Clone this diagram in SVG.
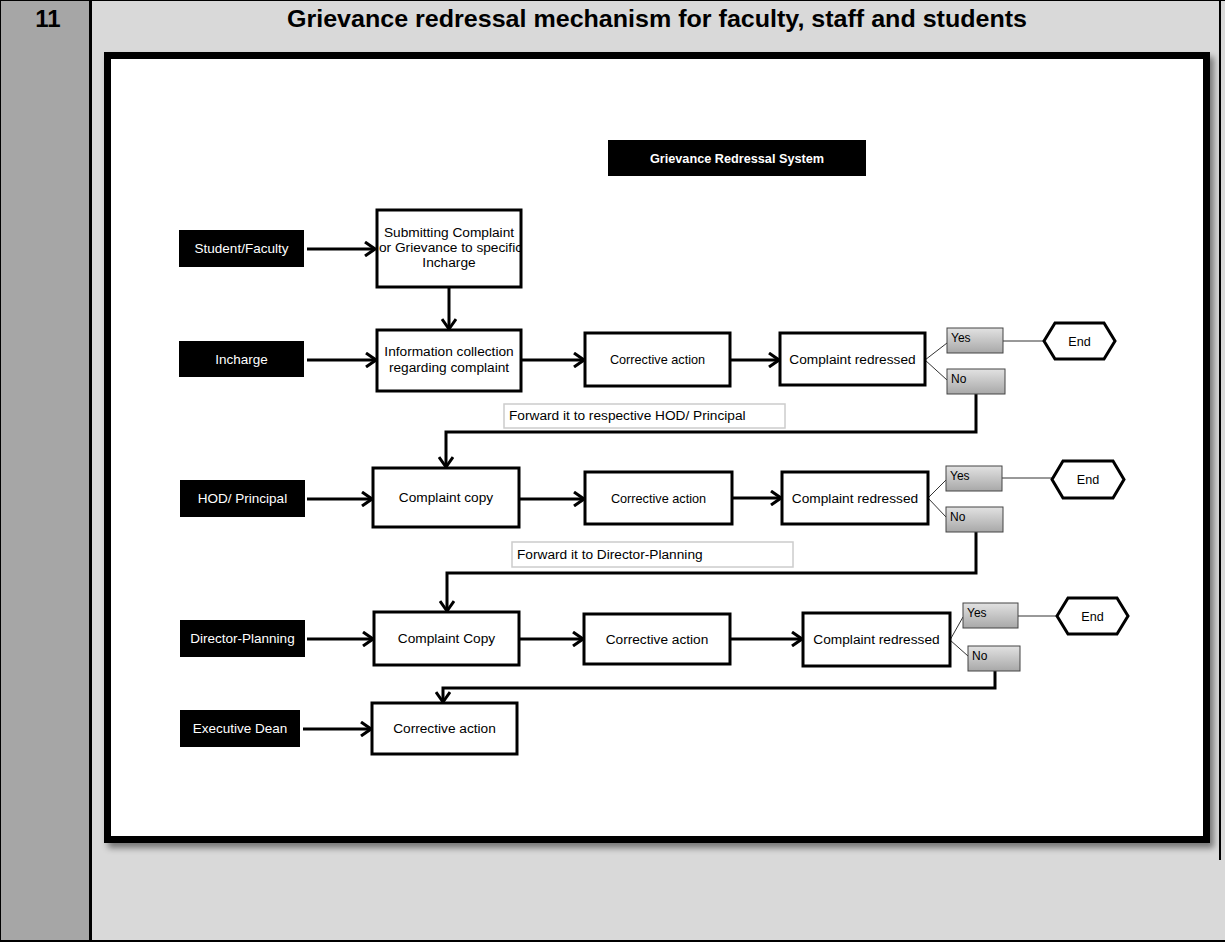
<svg xmlns="http://www.w3.org/2000/svg" width="1225" height="942" viewBox="0 0 1225 942">
<style>
text{font-family:"Liberation Sans",Arial,sans-serif;fill:#000}
.lbl rect{fill:#000}
.lbl text{fill:#fff;font-size:13.5px;text-anchor:middle}
.box rect{fill:#fff;stroke:#000;stroke-width:3}
.box text{font-size:13.7px;text-anchor:middle}
.yn rect{fill:url(#g);stroke:#444;stroke-width:1}
.yn text{font-size:12px}
.end polygon{fill:#fff;stroke:#000;stroke-width:3}
.end text{font-size:12.6px;text-anchor:middle}
.fw rect{fill:#fff;stroke:#ccc;stroke-width:1.5}
.fw text{font-size:13.7px}
.c path,.c line{fill:none;stroke:#000;stroke-width:3}
.c .thin{stroke:#333;stroke-width:1}
.c .arr{marker-end:url(#ah)}
</style>
<defs>
<linearGradient id="g" x1="0" y1="0" x2="0" y2="1"><stop offset="0" stop-color="#e2e2e2"/><stop offset="1" stop-color="#a8a8a8"/></linearGradient>
<marker id="ah" viewBox="0 0 12 16" refX="11" refY="8" markerWidth="12" markerHeight="16" markerUnits="userSpaceOnUse" orient="auto"><path d="M1,1 L11,8 L1,15" fill="none" stroke="#000" stroke-width="3"/></marker>
<filter id="sh" x="-5%" y="-5%" width="110%" height="110%"><feDropShadow dx="4" dy="5" stdDeviation="3" flood-color="#000" flood-opacity="0.45"/></filter>
<clipPath id="clipSub"><rect x="378" y="211" width="142" height="75"/></clipPath>
</defs>
<g id="table">
<rect x="0" y="0" width="1225" height="942" fill="#d9d9d9"/>
<rect x="0" y="0" width="89" height="942" fill="#a6a6a6"/>
<line x1="0" y1="0.5" x2="1225" y2="0.5" stroke="#000" stroke-width="1"/>
<line x1="0.5" y1="0" x2="0.5" y2="942" stroke="#000" stroke-width="1"/>
<line x1="90.5" y1="0" x2="90.5" y2="942" stroke="#000" stroke-width="3"/>
<line x1="1220" y1="0" x2="1220" y2="860" stroke="#000" stroke-width="2"/>
<line x1="0" y1="941" x2="1225" y2="941" stroke="#000" stroke-width="2"/>
<text x="48" y="27" font-size="24" font-weight="bold" text-anchor="middle">11</text>
<text x="657" y="27" font-size="24" font-weight="bold" text-anchor="middle" textLength="740" lengthAdjust="spacingAndGlyphs">Grievance redressal mechanism for faculty, staff and students</text>
</g>
<g id="frame">
<rect x="107.5" y="55.5" width="1099" height="784" fill="#fff" stroke="#000" stroke-width="7" filter="url(#sh)"/>
</g>
<g id="title-box">
<rect x="608" y="140" width="258" height="36" fill="#000"/>
<text x="737" y="163" font-size="12.7" font-weight="bold" fill="#fff" text-anchor="middle" style="fill:#fff">Grievance Redressal System</text>
</g>
<g class="c" id="connectors">
<line class="arr" x1="307" y1="249" x2="375" y2="249"/>
<line class="arr" x1="449" y1="287" x2="449" y2="329"/>
<line class="arr" x1="307" y1="360" x2="376" y2="360"/>
<line class="arr" x1="521" y1="360" x2="584" y2="360"/>
<line class="arr" x1="730" y1="360" x2="779" y2="360"/>
<line class="thin" x1="925" y1="360" x2="947" y2="343"/>
<line class="thin" x1="925" y1="360" x2="947" y2="380"/>
<line class="thin" x1="1003" y1="341" x2="1044" y2="341"/>
<path class="arr" d="M976,394 V432 H446 V467"/>
<line class="arr" x1="307" y1="499" x2="372" y2="499"/>
<line class="arr" x1="519" y1="499" x2="584" y2="499"/>
<line class="arr" x1="732" y1="498" x2="781" y2="498"/>
<line class="thin" x1="928" y1="498" x2="946" y2="480"/>
<line class="thin" x1="928" y1="498" x2="946" y2="517"/>
<line class="thin" x1="1002" y1="478" x2="1052" y2="478"/>
<path class="arr" d="M976,532 V573 H447 V611"/>
<line class="arr" x1="307" y1="639" x2="373" y2="639"/>
<line class="arr" x1="519" y1="639" x2="583" y2="639"/>
<line class="arr" x1="730" y1="639" x2="802" y2="639"/>
<line class="thin" x1="950" y1="640" x2="963" y2="617"/>
<line class="thin" x1="950" y1="640" x2="968" y2="656"/>
<line class="thin" x1="1018" y1="616" x2="1057" y2="616"/>
<path class="arr" d="M995,671 V688 H443 V702"/>
<line class="arr" x1="303" y1="729" x2="371" y2="729"/>
</g>
<g id="student-faculty" class="lbl"><rect x="179" y="230" width="125" height="37"/><text x="241.5" y="253">Student/Faculty</text></g>
<g id="incharge" class="lbl"><rect x="179" y="341" width="125" height="36"/><text x="241.5" y="364">Incharge</text></g>
<g id="hod-principal" class="lbl"><rect x="180" y="480" width="125" height="37"/><text x="242.5" y="503">HOD/ Principal</text></g>
<g id="director-planning" class="lbl"><rect x="180" y="620" width="125" height="37"/><text x="242.5" y="643">Director-Planning</text></g>
<g id="executive-dean" class="lbl"><rect x="180" y="710" width="120" height="37"/><text x="240" y="733">Executive Dean</text></g>
<g id="submitting" class="box"><rect x="377" y="210" width="144" height="77"/>
<g clip-path="url(#clipSub)"><text x="449" y="237" font-size="14">Submitting Complaint</text><text x="379" y="252" font-size="14" style="text-anchor:start">or Grievance to specific</text><text x="449" y="267" font-size="14">Incharge</text></g></g>
<g id="info-collection" class="box"><rect x="377" y="330" width="144" height="61"/><text x="449" y="356" font-size="14">Information collection</text><text x="449" y="372" font-size="14">regarding complaint</text></g>
<g id="corrective-1" class="box"><rect x="585" y="333" width="145" height="53"/><text x="657.5" y="364" style="font-size:12.7px">Corrective action</text></g>
<g id="redressed-1" class="box"><rect x="780" y="333" width="145" height="52"/><text x="852.5" y="364">Complaint redressed</text></g>
<g id="yes-1" class="yn"><rect x="947" y="328" width="56" height="25"/><text x="951" y="342">Yes</text></g>
<g id="no-1" class="yn"><rect x="947" y="369" width="58" height="25"/><text x="951" y="383">No</text></g>
<g id="end-1" class="end"><polygon points="1044,341 1055,323 1104,323 1115,341 1104,359 1055,359"/><text x="1079.5" y="346">End</text></g>
<g id="forward-1" class="fw"><rect x="504" y="404" width="281" height="24"/><text x="509" y="420">Forward it to respective HOD/ Principal</text></g>
<g id="complaint-copy-1" class="box"><rect x="373" y="468" width="146" height="59"/><text x="446" y="502">Complaint copy</text></g>
<g id="corrective-2" class="box"><rect x="585" y="472" width="147" height="52"/><text x="658.5" y="503" style="font-size:12.7px">Corrective action</text></g>
<g id="redressed-2" class="box"><rect x="782" y="472" width="146" height="52"/><text x="855" y="503">Complaint redressed</text></g>
<g id="yes-2" class="yn"><rect x="946" y="466" width="56" height="25"/><text x="950" y="480">Yes</text></g>
<g id="no-2" class="yn"><rect x="946" y="507" width="57" height="25"/><text x="950" y="521">No</text></g>
<g id="end-2" class="end"><polygon points="1052,479.5 1063,461 1113,461 1124,479.5 1113,498 1063,498"/><text x="1088" y="484">End</text></g>
<g id="forward-2" class="fw"><rect x="512" y="542" width="281" height="25"/><text x="517" y="559">Forward it to Director-Planning</text></g>
<g id="complaint-copy-2" class="box"><rect x="374" y="612" width="145" height="53"/><text x="446.5" y="643">Complaint Copy</text></g>
<g id="corrective-3" class="box"><rect x="584" y="614" width="146" height="50"/><text x="657" y="644">Corrective action</text></g>
<g id="redressed-3" class="box"><rect x="803" y="613" width="147" height="53"/><text x="876.5" y="644">Complaint redressed</text></g>
<g id="yes-3" class="yn"><rect x="963" y="603" width="55" height="25"/><text x="967" y="617">Yes</text></g>
<g id="no-3" class="yn"><rect x="968" y="646" width="52" height="25"/><text x="972" y="660">No</text></g>
<g id="end-3" class="end"><polygon points="1057,616 1068,598 1117,598 1128,616 1117,634 1068,634"/><text x="1092.5" y="621">End</text></g>
<g id="corrective-4" class="box"><rect x="372" y="703" width="145" height="51"/><text x="444.5" y="733">Corrective action</text></g>
</svg>
